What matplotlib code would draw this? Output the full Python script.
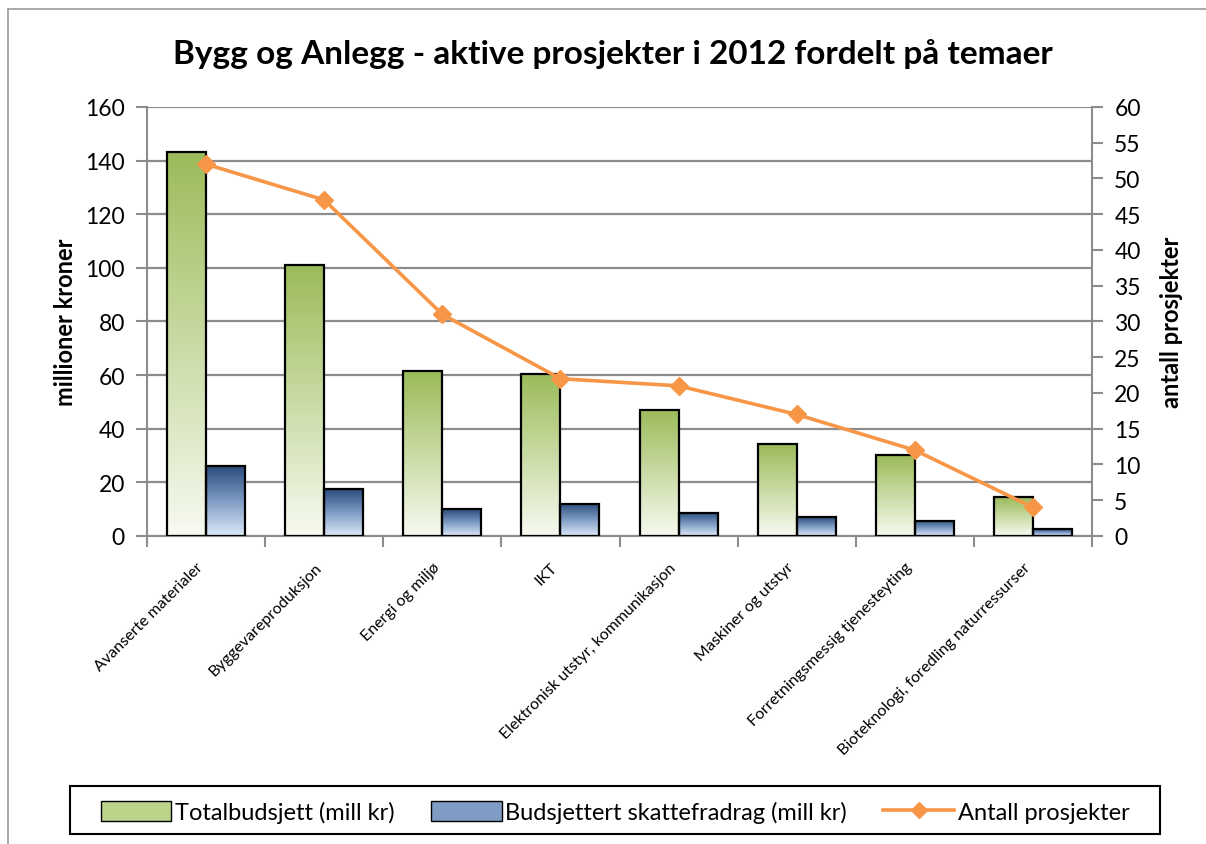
import numpy as np
import matplotlib
matplotlib.use("Agg")
import matplotlib.pyplot as plt
import matplotlib.transforms as mtrans
from matplotlib.colors import LinearSegmentedColormap
from matplotlib.lines import Line2D
from matplotlib.patches import Patch, Rectangle

plt.rcParams['font.family'] = ['Lato', 'DejaVu Sans']

categories = ["Avanserte materialer", "Byggevareproduksjon", "Energi og miljø", "IKT",
              "Elektronisk utstyr, kommunikasjon", "Maskiner og utstyr",
              "Forretningsmessig tjenesteyting", "Bioteknologi, foredling naturressurser"]
total = [143.3, 101, 61.5, 60.4, 47, 34.3, 30.2, 14.5]
skatt = [26, 17.5, 10, 12, 8.6, 7, 5.6, 2.6]
antall = [52, 47, 31, 22, 21, 17, 12, 4]

green_cmap = LinearSegmentedColormap.from_list("g", ["#f7faf1", "#c9dba4", "#9bbb59"])
blue_cmap = LinearSegmentedColormap.from_list("b", ["#dce9fa", "#7f9cc4", "#2a4b7c"])
grid_col = "#8c8c8c"

fig = plt.figure(figsize=(12.06, 8.45), dpi=100)
ax = fig.add_axes([0.1219, 0.3645, 0.7836, 0.5077])
ax2 = ax.twinx()

x = np.arange(len(categories))
w = 0.33
grad = np.linspace(0, 1, 256).reshape(-1, 1)


def gradient_bars(xpos, vals, cmap):
    bars = ax.bar(xpos, vals, w, facecolor="none", edgecolor="black", linewidth=1.6, zorder=3)
    for b in bars:
        x0, y0 = b.get_x(), b.get_y()
        im = ax.imshow(grad, cmap=cmap, origin="lower", aspect="auto", zorder=2.5,
                       extent=[x0, x0 + b.get_width(), y0, y0 + b.get_height()])
        im.set_clip_path(b)
    return bars


gradient_bars(x - w / 2, total, green_cmap)
gradient_bars(x + w / 2, skatt, blue_cmap)

ax.set_xlim(-0.5, len(categories) - 0.5)
ax.set_ylim(0, 160)
ax.set_yticks(range(0, 161, 20))
ax.set_xticks(np.arange(-0.5, len(categories), 1))
ax.set_xticklabels([])
ax.tick_params(axis="x", which="major", length=8, color=grid_col, width=1.5, direction="out")
ax.tick_params(axis="y", length=8, color=grid_col, width=1.5, labelsize=16.5, pad=8)
ax.yaxis.grid(True, color=grid_col, linewidth=1.6)
ax.set_axisbelow(True)
for s in ["top", "right"]:
    ax.spines[s].set_visible(False)
for s in ["left", "bottom"]:
    ax.spines[s].set_color(grid_col)
    ax.spines[s].set_linewidth(1.5)
ax.set_ylabel("millioner kroner", fontsize=17, fontweight="bold", labelpad=6)

# category labels, drawn as plain text so they can be nudged like Excel places them
lab_trans = ax.get_xaxis_transform() + mtrans.ScaledTranslation(-0.10, -0.24, fig.dpi_scale_trans)
for xi, name in zip(x, categories):
    ax.text(xi, 0, name, rotation=45, ha="right", va="top", rotation_mode="anchor",
            fontsize=11.5, transform=lab_trans)

ax2.plot(x, antall, color="#f79646", linewidth=2.6, marker="D", markersize=9.5, zorder=4)
ax2.set_ylim(0, 60)
ax2.set_yticks(range(0, 61, 5))
ax2.tick_params(axis="y", length=8, color=grid_col, width=1.5, labelsize=16.5, pad=8)
for s in ["top", "left", "bottom"]:
    ax2.spines[s].set_visible(False)
ax2.spines["right"].set_color(grid_col)
ax2.spines["right"].set_linewidth(1.5)
ax2.set_ylabel("antall prosjekter", fontsize=17, fontweight="bold", labelpad=14)

fig.text(0.508, 1 - 64 / 845, "Bygg og Anlegg - aktive prosjekter i 2012 fordelt på temaer",
         ha="center", va="baseline", fontsize=24, fontweight="bold")

handles = [Patch(facecolor="#bcd38a", edgecolor="black"),
           Patch(facecolor="#7f9cc4", edgecolor="black"),
           Line2D([], [], color="#f79646", linewidth=2.6, marker="D", markersize=8)]
labels = ["Totalbudsjett (mill kr)", "Budsjettert skattefradrag (mill kr)", "Antall prosjekter"]
leg = fig.legend(handles, labels, loc="lower left",
                 bbox_to_anchor=(90 / 1206, 10 / 845, 1050 / 1206, 48 / 845), mode="expand",
                 ncol=3, fontsize=17, frameon=False,
                 handlelength=3.0, handleheight=0.9, handletextpad=0.15, borderpad=0.45,
                 borderaxespad=0)
fig.add_artist(Rectangle((70 / 1206, 10 / 845), 1090 / 1206, 48 / 845, fill=False,
                         edgecolor="black", linewidth=1.5, transform=fig.transFigure))

fig.add_artist(Line2D([8 / 1206, 1], [1 - 10 / 845] * 2, color="#999999", linewidth=1.2,
                      transform=fig.transFigure))
fig.add_artist(Line2D([8 / 1206] * 2, [0, 1 - 10 / 845], color="#999999", linewidth=1.2,
                      transform=fig.transFigure))

fig.savefig("out.png", dpi=100)
